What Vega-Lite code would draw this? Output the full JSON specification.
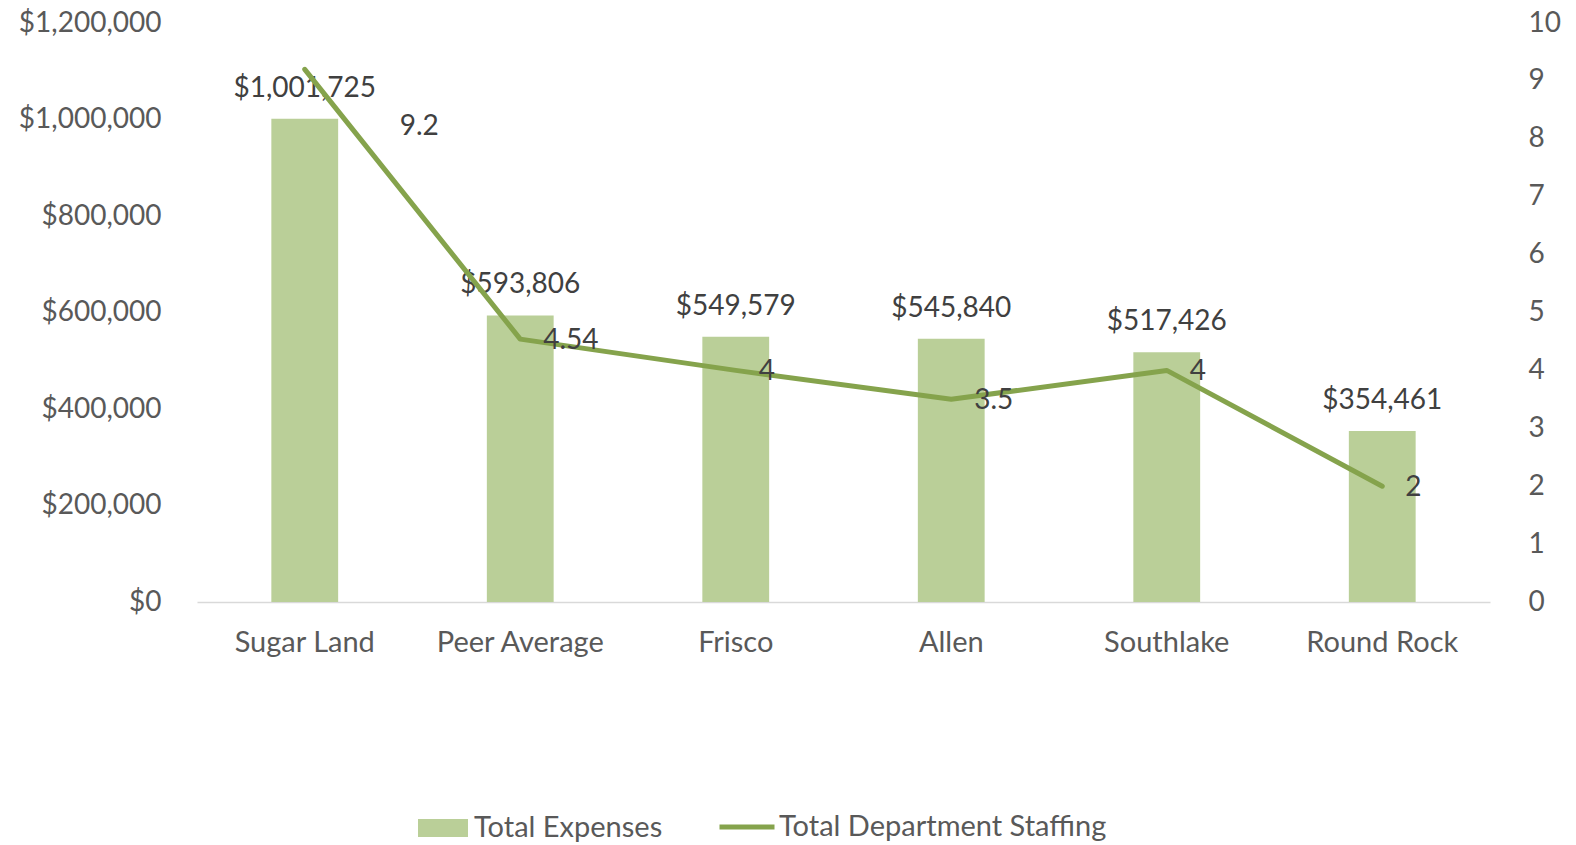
{
  "$schema": "https://vega.github.io/schema/vega-lite/v6.json",
  "width": 1293,
  "height": 579,
  "autosize": {"type": "none"},
  "padding": {"left": 197, "top": 23, "right": 86, "bottom": 243},
  "background": "white",
  "config": {
    "font": "Lato",
    "view": {"stroke": null},
    "axis": {"labelFont": "Lato", "labelFontSize": 28, "labelColor": "#595959", "grid": false, "ticks": false, "title": null},
    "legend": {"labelFont": "Lato", "labelFontSize": 29, "labelColor": "#595959", "padding": 0, "labelLimit": 0}
  },
  "data": {
    "values": [
      {"city": "Sugar Land", "expenses": 1001725, "staffing": 9.2},
      {"city": "Peer Average", "expenses": 593806, "staffing": 4.54},
      {"city": "Frisco", "expenses": 549579, "staffing": 4},
      {"city": "Allen", "expenses": 545840, "staffing": 3.5},
      {"city": "Southlake", "expenses": 517426, "staffing": 4},
      {"city": "Round Rock", "expenses": 354461, "staffing": 2}
    ]
  },
  "encoding": {
    "x": {
      "field": "city", "type": "nominal", "sort": null,
      "scale": {"paddingInner": 0.69, "paddingOuter": 0.345},
      "axis": {"labelAngle": 0, "domain": true, "domainColor": "#D9D9D9", "domainWidth": 1.5, "labelPadding": 26, "labelFontSize": 29, "labelColor": "#595959"}
    }
  },
  "layer": [
    {
      "layer": [
        {
          "mark": {"type": "bar", "color": "#BACF98"},
          "encoding": {
            "y": {"field": "expenses", "type": "quantitative", "scale": {"domain": [0, 1200000]},
              "axis": {"orient": "left", "format": "$,.0f", "values": [0, 200000, 400000, 600000, 800000, 1000000, 1200000], "domain": false, "labelPadding": 36}},
            "fill": {"datum": "Total Expenses", "type": "nominal", "scale": {"range": ["#BACF98"]},
              "legend": {"orient": "none", "legendX": 221, "legendY": 780, "title": null, "symbolType": "M-1,-0.36H1V0.36H-1Z", "symbolSize": 2500, "symbolStrokeWidth": 0, "labelOffset": 6}}
          }
        },
        {
          "mark": {"type": "text", "baseline": "middle", "align": "center", "dy": -30, "fontSize": 28, "color": "#404040", "font": "Lato"},
          "encoding": {
            "y": {"field": "expenses", "type": "quantitative", "scale": {"domain": [0, 1200000]}},
            "text": {"field": "expenses", "type": "quantitative", "format": "$,.0f"}
          }
        }
      ]
    },
    {
      "layer": [
        {
          "mark": {"type": "line", "strokeWidth": 5, "strokeCap": "round", "strokeJoin": "round"},
          "encoding": {
            "y": {"field": "staffing", "type": "quantitative", "scale": {"domain": [0, 10]},
              "axis": {"orient": "right", "format": "d", "values": [0,1,2,3,4,5,6,7,8,9,10], "domain": false, "labelPadding": 38}},
            "stroke": {"datum": "Total Department Staffing", "type": "nominal", "scale": {"range": ["#85A34C"]},
              "legend": {"orient": "none", "legendX": 520, "legendY": 774, "title": null, "symbolType": "stroke", "symbolSize": 3025, "symbolStrokeWidth": 5, "labelOffset": 2}}
          }
        },
        {
          "transform": [{"filter": "datum.city !== 'Sugar Land'"}],
          "mark": {"type": "text", "baseline": "middle", "align": "left", "dx": 23, "dy": 2, "fontSize": 28, "color": "#404040", "font": "Lato"},
          "encoding": {
            "y": {"field": "staffing", "type": "quantitative", "scale": {"domain": [0, 10]}},
            "text": {"field": "staffing", "type": "quantitative"}
          }
        },
        {
          "transform": [{"filter": "datum.city === 'Sugar Land'"}],
          "mark": {"type": "text", "baseline": "middle", "align": "left", "dx": 95, "dy": 58, "fontSize": 28, "color": "#404040", "font": "Lato"},
          "encoding": {
            "y": {"field": "staffing", "type": "quantitative", "scale": {"domain": [0, 10]}},
            "text": {"field": "staffing", "type": "quantitative"}
          }
        }
      ]
    }
  ],
  "resolve": {"scale": {"y": "independent"}}
}
